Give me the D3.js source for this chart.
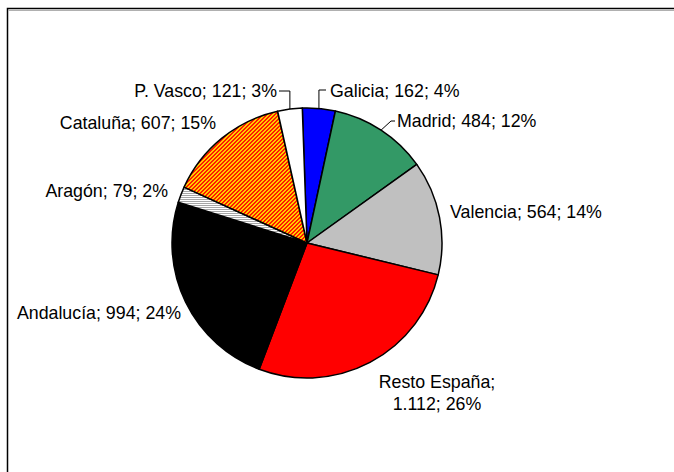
<!DOCTYPE html>
<html>
<head>
<meta charset="utf-8">
<script src="https://cdn.jsdelivr.net/npm/d3@7"></script>
<style>
  html, body { margin: 0; background: #fff; overflow: hidden; }
  svg { display: block; }
  svg text { font-family: "Liberation Sans", Arial, sans-serif; font-size: 17.8px; fill: #000; }
</style>
</head>
<body>
<svg id="chart" width="674" height="472"></svg>
<script>
// data, clockwise from 12 o'clock
var regions = ['Galicia', 'Madrid', 'Valencia', 'Resto España', 'Andalucía', 'Aragón', 'Cataluña', 'P. Vasco']
var values = [162, 484, 564, 1112, 994, 79, 607, 121]
var valueLabels = ['162', '484', '564', '1.112', '994', '79', '607', '121']
var pctLabels = ['4%', '12%', '14%', '26%', '24%', '2%', '15%', '3%']
var fills = ['#0000ff', '#339966', '#c0c0c0', '#ff0000', '#000000', 'url(#stripesH)', 'url(#hatchOr)', '#ffffff']

var svg = d3.select('#chart')
var cx = 307, cy = 243, r = 135
var rot = -2 * Math.PI / 180  // first slice starts a little left of 12 o'clock

// fill patterns
var defs = svg.append('defs')
var pH = defs.append('pattern').attr('id', 'stripesH')
    .attr('patternUnits', 'userSpaceOnUse').attr('width', 4).attr('height', 2)
pH.append('rect').attr('width', 4).attr('height', 2).attr('fill', '#ffffff')
pH.append('rect').attr('width', 4).attr('height', 1).attr('fill', '#a6a6a6')

var pO = defs.append('pattern').attr('id', 'hatchOr')
    .attr('patternUnits', 'userSpaceOnUse').attr('width', 4).attr('height', 4)
pO.append('rect').attr('width', 4).attr('height', 4).attr('fill', '#ff1a00')
for (var x = 0; x < 4; x++)
    for (var y = 0; y < 4; y++)
	if ((x + y) % 4 < 2)
	    pO.append('rect').attr('x', x).attr('y', y).attr('width', 1).attr('height', 1).attr('fill', '#ffcc00')

// chart frame: only top and left edges are inside the picture
svg.append('path').attr('d', 'M7.5,472V8.5H674')
    .attr('fill', 'none').attr('stroke', '#000').attr('stroke-width', 1.5)
svg.append('line').attr('x1', 8).attr('x2', 674).attr('y1', 10.5).attr('y2', 10.5)
    .attr('stroke', '#b0b0b0').attr('stroke-width', 1)

var pie = d3.pie().sort(null).value(function(d) { return d })
    .startAngle(rot).endAngle(rot + 2 * Math.PI)
var arcs = pie(values)
var arc = d3.arc().innerRadius(0).outerRadius(r)

var g = svg.append('g').attr('transform', 'translate(' + cx + ',' + cy + ')')
g.selectAll('path.slice').data(arcs).enter().append('path')
    .attr('class', 'slice')
    .attr('d', arc)
    .attr('fill', function(d, i) { return fills[i] })
    .attr('stroke', '#000')
    .attr('stroke-width', 1.5)
    .attr('stroke-linejoin', 'round')

// label placement: text anchor point, alignment and leader style
var labelPos = [
    {x: 330, y: 97, anchor: 'start', leader: 'left'},
    {x: 397, y: 127, anchor: 'start', leader: 'diag'},
    {x: 450, y: 218, anchor: 'start'},
    {x: 437, y: 388, anchor: 'middle', twoLines: true},
    {x: 181, y: 319, anchor: 'end'},
    {x: 168, y: 197, anchor: 'end'},
    {x: 216, y: 129, anchor: 'end'},
    {x: 277, y: 97, anchor: 'end', leader: 'right'}
]

function edgePoint(d) {
    var a = (d.startAngle + d.endAngle) / 2
    return [cx + r * Math.sin(a), cy - r * Math.cos(a)]
}

arcs.forEach(function(d, i) {
    var p = labelPos[i]
    var t = svg.append('text').attr('x', p.x).attr('y', p.y).attr('text-anchor', p.anchor)
    if (p.twoLines) {
	t.text(regions[i] + ';')
	svg.append('text').attr('x', p.x).attr('y', p.y + 22).attr('text-anchor', p.anchor)
	    .text(valueLabels[i] + '; ' + pctLabels[i])
    } else {
	t.text(regions[i] + '; ' + valueLabels[i] + '; ' + pctLabels[i])
    }
    if (!p.leader) return
    var e = edgePoint(d), pts
    if (p.leader == 'left')
	pts = [[p.x - 4, p.y - 7], [e[0], p.y - 7], e]
    else if (p.leader == 'right')
	pts = [[p.x + 2, p.y - 6], [e[0], p.y - 6], e]
    else
	pts = [[p.x - 2, p.y - 6], [p.x - 6, p.y - 6], e]
    svg.append('path').attr('d', d3.line()(pts))
	.attr('fill', 'none').attr('stroke', '#000').attr('stroke-width', 1)
})
</script>
</body>
</html>
